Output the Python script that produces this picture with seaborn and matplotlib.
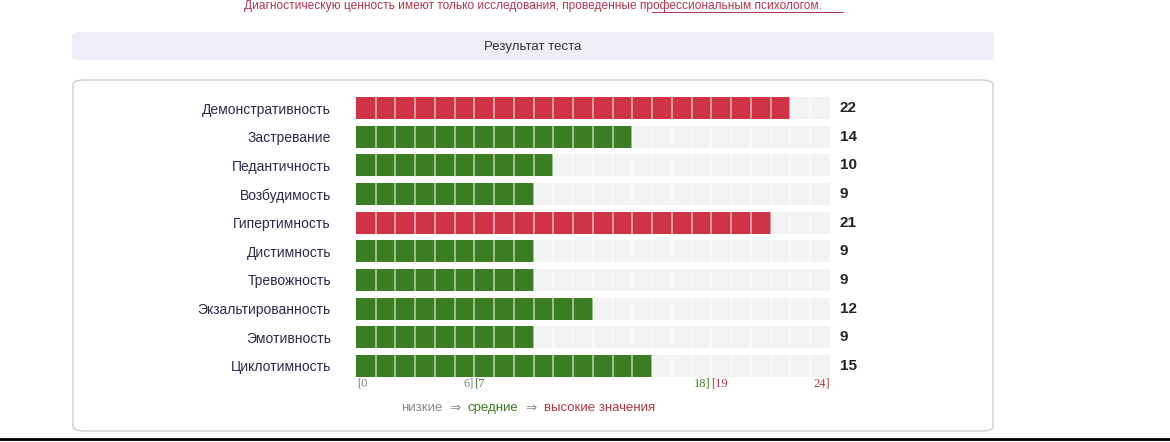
import matplotlib
matplotlib.use("Agg")
import matplotlib.pyplot as plt
import seaborn as sns
import pandas as pd
from matplotlib.patches import FancyBboxPatch

categories = ["Демонстративность", "Застревание", "Педантичность", "Возбудимость", "Гипертимность",
              "Дистимность", "Тревожность", "Экзальтированность", "Эмотивность", "Циклотимность"]
values = [22, 14, 10, 9, 21, 9, 9, 12, 9, 15]
max_score = 24
levels = ["high" if v >= 19 else ("mid" if v >= 7 else "low") for v in values]
palette = {"high": "#cf3446", "mid": "#3a7d22", "low": "#888888"}

W, H = 1170, 442
fig = plt.figure(figsize=(W/100, H/100), dpi=100)
fig.patch.set_facecolor("white")
ff = "Liberation Sans"

# top note
fig.text(533/W, 1-6/H, "Диагностическую ценность имеют только исследования, проведенные профессиональным психологом.",
         ha="center", va="center", fontsize=8.6, color="#b0354a", family=ff)
fig.add_artist(plt.Line2D([652/W, 843/W], [1-12/H, 1-12/H], color="#b0354a", lw=0.7, transform=fig.transFigure))

# header band
fig.add_artist(FancyBboxPatch((72/W, 1-60/H), (994-72)/W, 28/H,
               boxstyle="round,pad=0,rounding_size=0.006", transform=fig.transFigure,
               facecolor="#eeeff6", edgecolor="none", zorder=-5))
fig.text(533/W, 1-47/H, "Результат теста", ha="center", va="center", fontsize=9.5,
         color="#333333", family=ff)
# card
fig.add_artist(FancyBboxPatch((73/W, 1-431/H), (993-73)/W, (431-80)/H,
               boxstyle="round,pad=0,rounding_size=0.01", transform=fig.transFigure,
               facecolor="none", edgecolor="#cfcfcf", lw=1, zorder=-5))
fig.add_artist(plt.Line2D([0, 1], [1-439/H, 1-439/H], color="black", lw=2, transform=fig.transFigure))

ax = fig.add_axes([356/W, (H-380.3)/H, (830-356)/W, 286.6/H])
ax.set_zorder(5)
ax.patch.set_alpha(0)
df = pd.DataFrame({"cat": categories, "val": values, "lvl": levels, "full": [max_score]*len(values)})
sns.barplot(data=df, x="full", y="cat", orient="h", color="#f3f3f3", width=0.77, ax=ax, saturation=1)
sns.barplot(data=df, x="val", y="cat", hue="lvl", palette=palette, orient="h",
            width=0.77, dodge=False, legend=False, ax=ax, saturation=1)
for k in range(1, max_score):
    ax.axvline(k, color="white", lw=1.2, alpha=0.6)
ax.set_xlim(0, max_score)
for i, v in enumerate(values):
    ax.text(max_score + 0.5, i, str(v), va="center", ha="left", fontsize=11, fontweight="bold",
            color="#222222", family=ff)
ax.set_xlabel(""); ax.set_ylabel("")
ax.set_xticks([])
ax.tick_params(axis="y", length=0, pad=18, labelsize=10, labelcolor="#2a2a4a")
for lab in ax.get_yticklabels():
    lab.set_family(ff)
for s in ax.spines.values():
    s.set_visible(False)

# scale labels
y = 1-384/H
sf = dict(va="center", fontsize=9, family="Liberation Serif")
fig.text(357/W, y, "[0", ha="left", color="#888888", **sf)
fig.text(474/W, y, "6]", ha="right", color="#888888", **sf)
fig.text(474/W, y, "[7", ha="left", color="#3a7d22", **sf)
fig.text(711/W, y, "18]", ha="right", color="#3a7d22", **sf)
fig.text(711/W, y, "[19", ha="left", color="#b0354a", **sf)
fig.text(830/W, y, "24]", ha="right", color="#b0354a", **sf)
y2 = 1-408/H
lf = dict(va="center", fontsize=9.5, family=ff)
fig.text(401/W, y2, "низкие", ha="left", color="#888888", **lf)
fig.text(449/W, y2, "⇒", ha="left", color="#888888", fontsize=9.5, va="center")
fig.text(468/W, y2, "средние", ha="left", color="#3a7d22", **lf)
fig.text(525/W, y2, "⇒", ha="left", color="#888888", fontsize=9.5, va="center")
fig.text(544/W, y2, "высокие значения", ha="left", color="#b0354a", **lf)

fig.savefig("out.png", dpi=100)
